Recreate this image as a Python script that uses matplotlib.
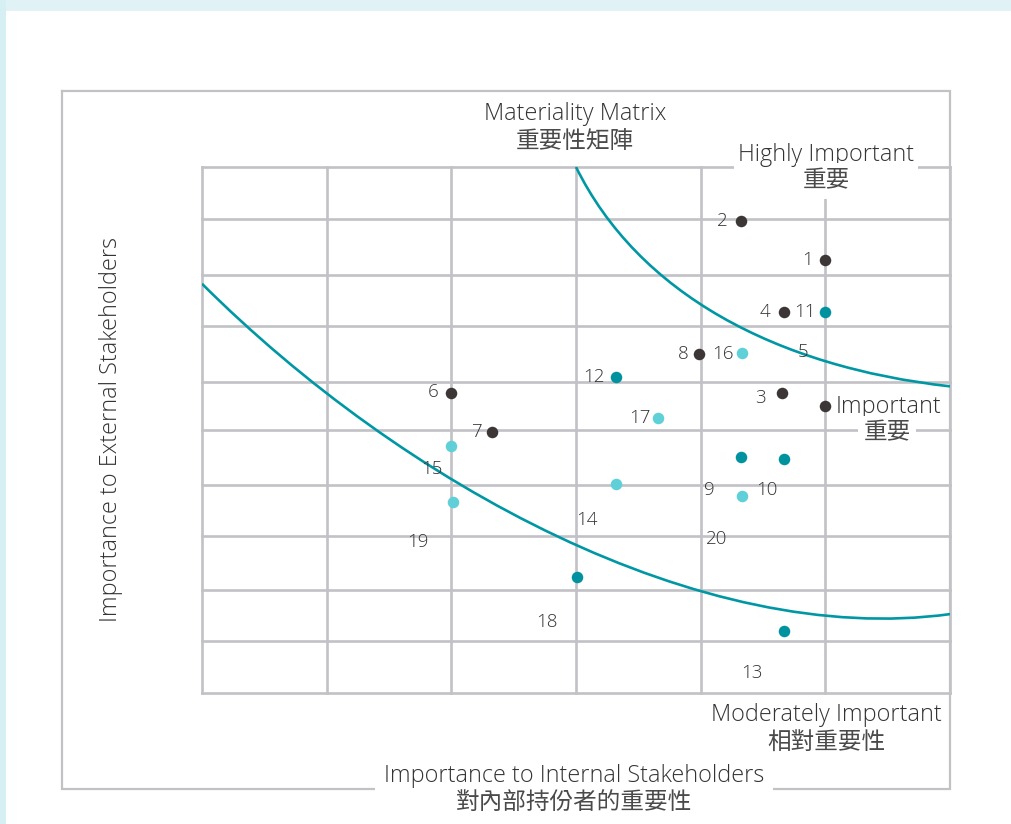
import matplotlib
matplotlib.use("Agg")
import matplotlib.pyplot as plt
from matplotlib.path import Path
from matplotlib.patches import PathPatch, Rectangle

# grid (data units: 6 columns, 10 uneven rows)
col_x = [0, 1, 2, 3, 4, 5, 6]
row_y = [0, 0.99, 1.96, 2.98, 3.95, 5.0, 5.91, 6.98, 7.95, 9.01, 10]

# points by colour group
dark_x = [4.32, 5.00, 4.67, 3.99, 4.65, 5.00, 2.00, 2.33]
dark_y = [8.97, 8.23, 7.24, 6.44, 5.70, 5.46, 5.70, 4.96]
teal_x = [5.00, 3.32, 4.32, 4.67, 3.01, 4.67]
teal_y = [7.24, 6.01, 4.49, 4.45, 2.21, 1.18]
light_x = [4.33, 3.66, 2.00, 2.01, 3.32, 4.33]
light_y = [6.46, 5.23, 4.70, 3.63, 3.97, 3.75]

# item numbers
num_text = ['1', '2', '3', '4', '5', '6', '7', '8', '9', '10',
            '11', '12', '13', '14', '15', '16', '17', '18', '19', '20']
num_x = [4.86, 4.17, 4.48, 4.52, 4.82, 1.85, 2.20, 3.86, 4.07, 4.53,
         4.84, 3.14, 4.41, 3.09, 1.84, 4.18, 3.51, 2.77, 1.73, 4.13]
num_y = [8.23, 8.97, 5.61, 7.24, 6.48, 5.72, 4.96, 6.44, 3.86, 3.86,
         7.24, 6.01, 0.38, 3.29, 4.26, 6.44, 5.23, 1.35, 2.87, 2.93]

# threshold curves (cubic bezier control points)
upper_curve = [(3.0, 10.0), (3.5, 7.6), (4.6, 6.2), (6.0, 5.83)]
lower_curve = [(0.0, 7.78), (1.6, 4.0), (4.0, 0.85), (6.0, 1.50)]

W, H = 1011, 824
GRAY = '#c2c2c6'
TEAL = '#0097a4'
TXT = '#333333'
CJK_TXT = '#4a4a4a'
LAT = ['Open Sans', 'DejaVu Sans']
CJK = ['Noto Sans CJK TC', 'DejaVu Sans']

fig = plt.figure(figsize=(W / 100, H / 100), dpi=100)

# page background and outer frame (pixel space)
bg = fig.add_axes([0, 0, 1, 1], zorder=-1)
bg.set_xlim(0, W)
bg.set_ylim(H, 0)
bg.axis('off')
bg.add_patch(Rectangle((0, 0), W, 11, color='#e0f2f5', lw=0))
bg.add_patch(Rectangle((0, 0), 6, H, color='#d5eff2', lw=0))
bg.plot([62, 950, 950, 62, 62], [91, 91, 789, 789, 91], color=GRAY, lw=1.6,
        solid_joinstyle='miter')

ax = fig.add_axes([202 / W, 1 - 693 / H, 748 / W, 526 / H])
ax.set_xlim(0, 6)
ax.set_ylim(0, 10)
ax.axis('off')

for x in col_x:
    ax.plot([x, x], [0, 10], color=GRAY, lw=1.9, clip_on=False, zorder=1)
for y in row_y:
    ax.plot([0, 6], [y, y], color=GRAY, lw=1.9, clip_on=False, zorder=1)

for pts in (upper_curve, lower_curve):
    path = Path(pts, [Path.MOVETO, Path.CURVE4, Path.CURVE4, Path.CURVE4])
    ax.add_patch(PathPatch(path, facecolor='none', edgecolor=TEAL, lw=1.9, zorder=2))

ax.plot(dark_x, dark_y, 'o', color='#3d3636', ms=8.3, mew=0, zorder=4, clip_on=False)
ax.plot(teal_x, teal_y, 'o', color='#00939f', ms=8.3, mew=0, zorder=4, clip_on=False)
ax.plot(light_x, light_y, 'o', color='#5fd0d7', ms=8.3, mew=0, zorder=4, clip_on=False)

for t, x, y in zip(num_text, num_x, num_y):
    ax.text(x, y, t, ha='center', va='center', fontsize=13.5, color=TXT,
            family=LAT, fontweight='light', zorder=5)


def label(x, y, s, fam, size, box=None, col=TXT, **kw):
    bb = None if box is None else dict(facecolor='white', edgecolor='none', pad=box)
    fig.text(x / W, 1 - y / H, s, ha='center', va='center', fontsize=size,
             color=col, family=fam, fontweight='light', bbox=bb, **kw)


label(575, 114, 'Materiality Matrix', LAT, 16.8)
label(575, 141, '重要性矩陣', CJK, 17, col=CJK_TXT)
label(826, 155, 'Highly Important', LAT, 16.8, box=3)
label(826, 181, '重要', CJK, 17, box=5, col=CJK_TXT)
label(888, 407, 'Important', LAT, 16.8)
label(887, 433, '重要', CJK, 17, box=4, col=CJK_TXT)
label(826, 715, 'Moderately Important', LAT, 16.8)
label(826, 742, '相對重要性', CJK, 17, col=CJK_TXT)
label(574, 776, 'Importance to Internal Stakeholders', LAT, 16.8, box=6)
label(574, 802, '對內部持份者的重要性', CJK, 17, col=CJK_TXT)
label(111, 430, 'Importance to External Stakeholders', LAT, 16.8, rotation=90)

fig.savefig('out.png', dpi=100)
